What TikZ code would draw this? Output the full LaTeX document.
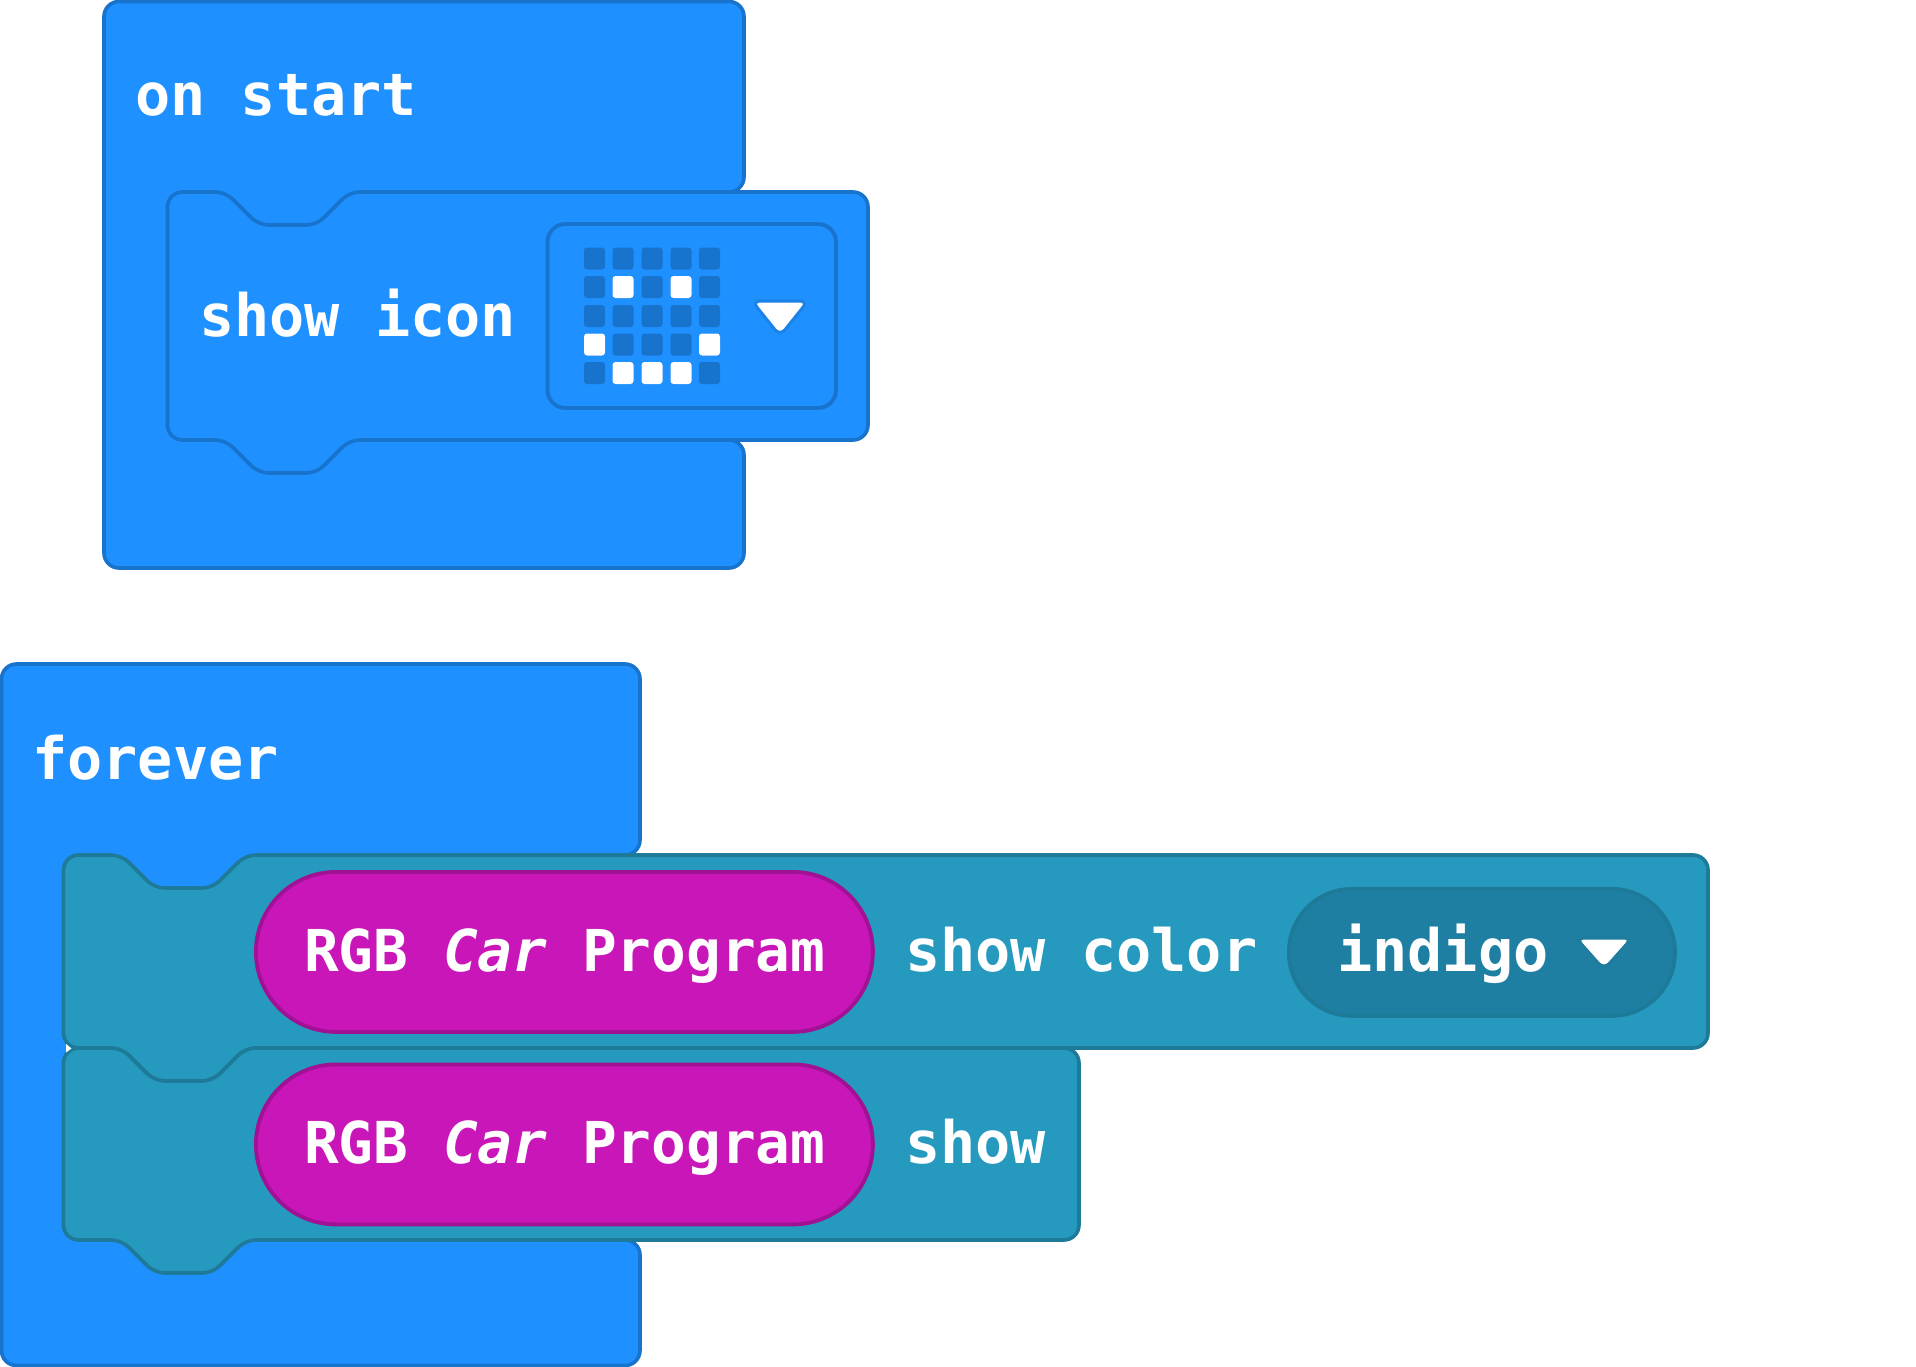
\documentclass[tikz,border=0pt]{standalone}
\usepackage{fontspec}
\setmonofont{DejaVu Sans Mono}
\definecolor{hatfill}{HTML}{1E90FF}
\definecolor{hatline}{HTML}{1873CC}
\definecolor{tealfill}{HTML}{2699BF}
\definecolor{tealline}{HTML}{1E7A99}
\definecolor{pillfill}{HTML}{1F7FA3}
\definecolor{pinkfill}{HTML}{C916B8}
\definecolor{pinkline}{HTML}{A01293}
\tikzset{
  hatblock/.style={fill=hatfill,draw=hatline,line width=3.6pt},
  tealblock/.style={fill=tealfill,draw=tealline,line width=3.6pt},
  pinkpill/.style={fill=pinkfill,draw=pinkline,line width=3.8pt},
  ddpill/.style={fill=pillfill,draw=tealline,line width=3.8pt},
  fieldbox/.style={draw=hatline,line width=3.8pt,rounded corners=18pt},
  label/.style={anchor=base west,inner sep=0pt,text=white,font=\fontsize{58.5}{60}\ttfamily\bfseries\selectfont},
  rgblabel/.style={anchor=base west,inner sep=0pt,text=white,font=\fontsize{57.7}{60}\ttfamily\bfseries\selectfont},
  ledoff/.style={fill=hatline,rounded corners=3pt},
  ledon/.style={fill=white,rounded corners=3pt},
  arrowtri/.style={fill=white,line width=3pt,line join=round,rounded corners=8pt},
}
% style, left, right, top, bottom
\newcommand\stackblock[5]{%
  \path[#1] ({#2+30},#4) [rounded corners=10pt] -- ({#2+58},#4) -- ({#2+91},{#4+33}) -- ({#2+149},{#4+33}) -- ({#2+182},#4)
    [rounded corners=15pt] -- (#3,#4) -- (#3,#5)
    [rounded corners=10pt] -- ({#2+182},#5) -- ({#2+149},{#5+33}) -- ({#2+91},{#5+33}) -- ({#2+58},#5)
    [rounded corners=15pt] -- (#2,#5) -- (#2,#4) -- cycle;}
% left, right, top, inner top, inner bottom, bottom
\newcommand\hatshape[6]{%
  \path[hatblock,rounded corners=15pt] ({#2-16},#4) -- (#2,#4) -- (#2,#3) -- (#1,#3) -- (#1,#6) -- (#2,#6) -- (#2,#5) -- ({#2-16},#5);}
\newcommand\led[3]{%
  \path[#1] ({#2-10.5},{#3-11}) rectangle ({#2+10.5},{#3+11});}
\begin{document}
\begin{tikzpicture}[x=1pt,y=-1pt]
\useasboundingbox (0,0) rectangle (1916,1367);
\fill[white] (0,0) rectangle (1916,1367);
% on start
\hatshape{104}{744}{1.5}{192}{440}{568}
\stackblock{hatblock}{167.5}{868}{192}{440}
\path[fieldbox] (547.5,224) rectangle (836,408);
\foreach \r/\ry in {1/258.5,2/287,3/316,4/344.5,5/373}
  \foreach \c/\cx in {1/594.5,2/623,3/652,4/681,5/709.5}
    {\led{ledoff}{\cx}{\ry}}
\led{ledon}{623}{287}\led{ledon}{681}{287}
\led{ledon}{594.5}{344.5}\led{ledon}{709.5}{344.5}
\led{ledon}{623}{373}\led{ledon}{652}{373}\led{ledon}{681}{373}
\path[arrowtri,draw=hatline!45!hatfill] (752,301) -- (808,301) -- (780,336) -- cycle;
\node[label] (onstart) at (135,115.5) {on start};
\node[label] (showicon) at (199,336) {show icon};
% forever
\hatshape{1.5}{640}{664}{855}{1240}{1365.5}
\stackblock{tealblock}{63.5}{1708}{855}{1048}
\stackblock{tealblock}{63.5}{1079}{1048}{1240}
\fill[white] (66,1044) -- (71.5,1048.5) -- (66,1052.5) -- cycle;
\node[pinkpill,rounded corners=80pt,minimum width=617pt,minimum height=160pt,anchor=north west,inner sep=0pt] (pillone) at (254,870) {};
\node[pinkpill,rounded corners=80pt,minimum width=617pt,minimum height=160pt,anchor=north west,inner sep=0pt] (pilltwo) at (254,1062.5) {};
\node[ddpill,rounded corners=63pt,minimum width=386pt,minimum height=127pt,anchor=north west,inner sep=0pt] (ddpill) at (1287,887) {};
\path[arrowtri,draw=tealline!60!pillfill] (1576,938) -- (1632,938) -- (1604,969.5) -- cycle;
\node[label] (foreverlabel) at (32,779.5) {forever};
\node[rgblabel] (rgbone) at (304,971) {RGB {\itshape Car} Program};
\node[rgblabel] (rgbtwo) at (304,1163.5) {RGB {\itshape Car} Program};
\node[label] (showcolor) at (905,971) {show color};
\node[label] (showlabel) at (905,1163.5) {show};
\node[label] (indigo) at (1337,971) {indigo};
\end{tikzpicture}
\end{document}
